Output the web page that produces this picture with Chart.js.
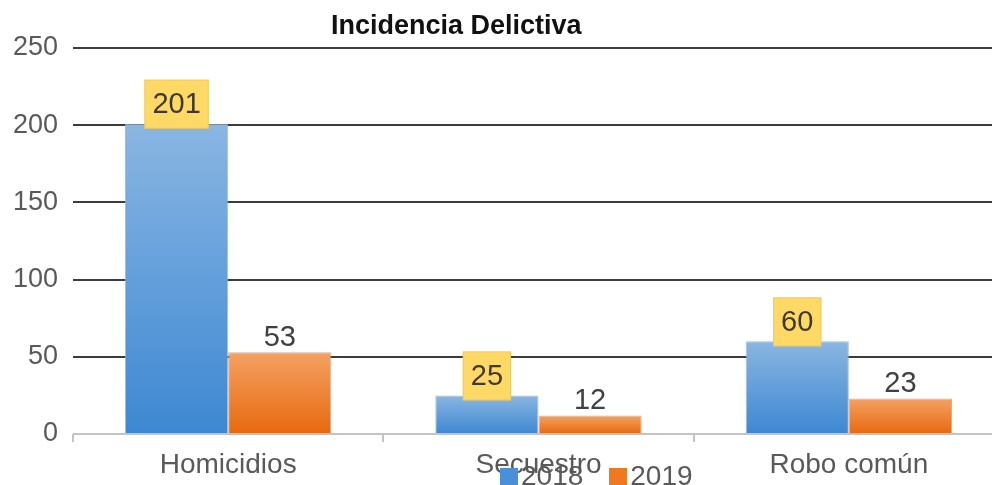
<!DOCTYPE html>
<html>
<head>
<meta charset="utf-8">
<script src="https://cdn.jsdelivr.net/npm/chart.js@4"></script>
<style>
	html, body { margin: 0; padding: 0; background: #fff; overflow: hidden; }
	.wrap { position: relative; width: 992px; height: 485px; overflow: hidden; }
	#chartTit {
		position: absolute; left: 331px; top: 10px;
		font: bold 27px "Liberation Sans", Arial, sans-serif; line-height: 31px;
		color: #111; white-space: nowrap;
	}
	#legendBox {
		position: absolute; left: 500px; top: 460px;
		display: flex; align-items: flex-start;
		font: 28px "Liberation Sans", Arial, sans-serif; line-height: 32px; color: #595959;
	}
	#legendBox .item { display: flex; align-items: flex-start; margin-right: 26px; }
	#legendBox .sq { width: 18px; height: 18px; margin-top: 8px; margin-right: 3px; }
</style>
</head>
<body>
<div class="wrap">
	<canvas id="barGraph" width="1010" height="485"></canvas>
	<div id="chartTit"></div>
	<div id="legendBox"></div>
</div>
<script>
// 데이터
const titleText = 'Incidencia Delictiva';
const categories = ['Homicidios', 'Secuestro', 'Robo común'];
const seriesNames = ['2018', '2019'];
const values2018 = [201, 25, 60];
const values2019 = [53, 12, 23];
const yTicks = [0, 50, 100, 150, 200, 250];

// 색상 (위 / 아래 그라데이션)
const blueTop = '#8ab6e2', blueBottom = '#3d88d2';
const orangeTop = '#f4a263', orangeBottom = '#e8680e';

/**
 * 막대별 세로 그라데이션
 */
function barGradient(ctx, top, bottom) {
	let chart = ctx.chart;
	let yScale = chart.scales.y;
	if (!chart.chartArea || !yScale || ctx.raw === undefined) return bottom;
	let y1 = yScale.getPixelForValue(ctx.raw);
	let y0 = yScale.getPixelForValue(0);
	if (!isFinite(y1) || !isFinite(y0) || y0 === y1) return bottom;
	let g = chart.ctx.createLinearGradient(0, y1, 0, y0);
	g.addColorStop(0, top);
	g.addColorStop(1, bottom);
	return g;
}

/**
 * 값 라벨 (2018 = 노란 박스, 2019 = 글자만)
 */
const valueLabels = {
	id: 'valueLabels',
	afterDatasetsDraw(chart) {
		let ctx = chart.ctx;
		ctx.save();
		ctx.font = '29px "Liberation Sans", Arial, sans-serif';
		ctx.textAlign = 'center';
		chart.data.datasets.forEach((ds, i) => {
			let meta = chart.getDatasetMeta(i);
			meta.data.forEach((bar, j) => {
				let txt = String(ds.data[j]);
				if (i === 0) {
					let w = ctx.measureText(txt).width + 16;
					let h = 49;
					let bottom = bar.y + 5;
					ctx.fillStyle = '#ffd966';
					ctx.fillRect(bar.x - w / 2, bottom - h, w, h);
					ctx.strokeStyle = 'rgba(230,190,80,0.6)';
					ctx.lineWidth = 1;
					ctx.strokeRect(bar.x - w / 2 + 0.5, bottom - h + 0.5, w - 1, h - 1);
					ctx.fillStyle = '#3f3a30';
					ctx.textBaseline = 'middle';
					ctx.fillText(txt, bar.x, bottom - h / 2 + 1);
				} else {
					ctx.fillStyle = '#404040';
					ctx.textBaseline = 'alphabetic';
					ctx.fillText(txt, bar.x, bar.y - 6);
				}
			});
		});
		ctx.restore();
	}
};

let config = {
	type: 'bar',
	data: {
		labels: categories,
		datasets: [{
			label: seriesNames[0],
			data: values2018,
			backgroundColor: (c) => barGradient(c, blueTop, blueBottom),
			borderColor: 'rgba(150,170,195,0.8)',
			borderWidth: 1,
			barPercentage: 1.0,
			categoryPercentage: 0.665
		}, {
			label: seriesNames[1],
			data: values2019,
			backgroundColor: (c) => barGradient(c, orangeTop, orangeBottom),
			borderColor: 'rgba(190,160,140,0.8)',
			borderWidth: 1,
			barPercentage: 1.0,
			categoryPercentage: 0.665
		}]
	},
	options: {
		responsive: false,
		maintainAspectRatio: false,
		animation: { duration: 0 },
		layout: { padding: { top: 48, right: 6, bottom: 0, left: 0 } },
		plugins: {
			legend: { display: false },
			title: { display: false },
			tooltip: { enabled: false }
		},
		scales: {
			y: {
				min: yTicks[0],
				max: yTicks[yTicks.length - 1],
				afterBuildTicks: (axis) => { axis.ticks = yTicks.map(v => ({ value: v })); },
				afterFit: (axis) => { axis.width = 73; },
				border: { display: false },
				grid: {
					color: (c) => c.tick && c.tick.value === 0 ? '#c4c4c4' : '#3c3c3c',
					lineWidth: 2,
					drawTicks: false
				},
				ticks: {
					color: '#595959',
					padding: 15,
					font: { size: 27, family: '"Liberation Sans", Arial, sans-serif' }
				}
			},
			x: {
				afterFit: (axis) => { axis.height = 51; },
				border: { display: false },
				grid: {
					offset: true,
					drawOnChartArea: false,
					drawTicks: true,
					tickLength: 8,
					color: '#c4c4c4',
					lineWidth: 2
				},
				ticks: {
					color: '#595959',
					padding: 6,
					font: { size: 28, family: '"Liberation Sans", Arial, sans-serif' }
				}
			}
		}
	},
	plugins: [valueLabels]
};

let barChart = new Chart(document.getElementById('barGraph'), config);

// 제목 / 범례 (HTML)
document.getElementById('chartTit').innerText = titleText;
let legendBox = document.getElementById('legendBox');
['#4a90d8', '#f07820'].forEach((col, i) => {
	let item = document.createElement('div');
	item.className = 'item';
	let sq = document.createElement('span');
	sq.className = 'sq';
	sq.style.background = col;
	let txt = document.createElement('span');
	txt.innerText = seriesNames[i];
	item.appendChild(sq);
	item.appendChild(txt);
	legendBox.appendChild(item);
});
</script>
</body>
</html>
